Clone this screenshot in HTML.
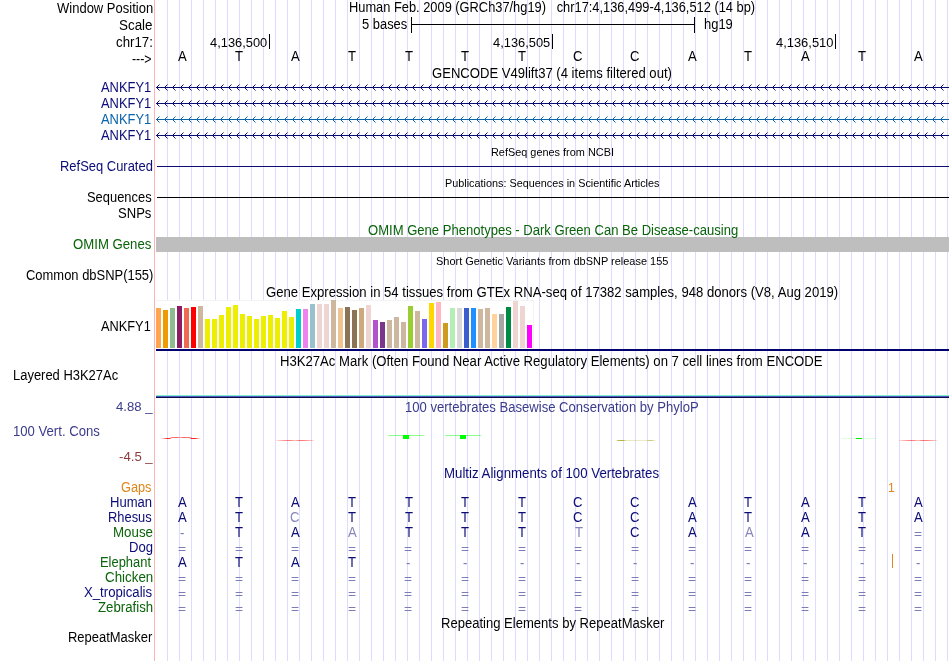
<!DOCTYPE html>
<html><head><meta charset="utf-8"><title>UCSC Genome Browser</title>
<style>
html,body{margin:0;padding:0;background:#fff;}
body{width:950px;height:661px;position:relative;overflow:hidden;font-family:"Liberation Sans",sans-serif;font-size:14px;color:#000;}
#gl{position:absolute;left:156px;top:0;width:794px;height:661px;background-image:repeating-linear-gradient(to right,transparent 0,transparent 11px,#dcdcff 11px,#dcdcff 12px);}
#pink{position:absolute;left:154px;top:0;width:1px;height:661px;background:#ffb4b4;}
svg{position:absolute;left:0;top:0;}
#tx{position:absolute;left:0;top:0;width:950px;height:661px;will-change:transform;}
.t{position:absolute;white-space:pre;line-height:16px;height:16px;font-size:14px;transform-origin:0 0;}
.navy{color:#0c0c78;}
.grn{color:#0a640a;}
.cons{color:#3c3c8c;}
.org{color:#e0861a;}
.lt{color:#8686ba;}
.eq{color:#7c7cb8;}
</style></head><body>
<div id="gl"></div>
<div id="pink"></div>
<svg width="950" height="661" viewBox="0 0 950 661" shape-rendering="crispEdges">
<defs><linearGradient id="g1" gradientUnits="userSpaceOnUse" x1="160" x2="171" y1="0" y2="0"><stop offset="0.000" stop-color="#ff0000" stop-opacity="0"/><stop offset="0.273" stop-color="#ff0000" stop-opacity="0.25"/><stop offset="0.636" stop-color="#ff0000" stop-opacity="0.85"/><stop offset="0.909" stop-color="#ff0000" stop-opacity="0.8"/><stop offset="1.000" stop-color="#ff0000" stop-opacity="0.3"/></linearGradient><linearGradient id="g2" gradientUnits="userSpaceOnUse" x1="170" x2="192" y1="0" y2="0"><stop offset="0.000" stop-color="#ff0000" stop-opacity="0.15"/><stop offset="0.091" stop-color="#ff0000" stop-opacity="0.55"/><stop offset="0.364" stop-color="#ff0000" stop-opacity="0.6"/><stop offset="0.455" stop-color="#ff0000" stop-opacity="0.3"/><stop offset="0.591" stop-color="#ff0000" stop-opacity="0.6"/><stop offset="0.864" stop-color="#ff0000" stop-opacity="0.55"/><stop offset="0.955" stop-color="#ff0000" stop-opacity="0.3"/><stop offset="1.000" stop-color="#ff0000" stop-opacity="0.1"/></linearGradient><linearGradient id="g3" gradientUnits="userSpaceOnUse" x1="190" x2="202" y1="0" y2="0"><stop offset="0.000" stop-color="#ff0000" stop-opacity="0.2"/><stop offset="0.083" stop-color="#ff0000" stop-opacity="0.8"/><stop offset="0.417" stop-color="#ff0000" stop-opacity="0.9"/><stop offset="0.667" stop-color="#ff0000" stop-opacity="0.35"/><stop offset="0.917" stop-color="#ff0000" stop-opacity="0"/></linearGradient><linearGradient id="g4" gradientUnits="userSpaceOnUse" x1="275" x2="316" y1="0" y2="0"><stop offset="0.000" stop-color="#ff0000" stop-opacity="0"/><stop offset="0.073" stop-color="#ff0000" stop-opacity="0.2"/><stop offset="0.293" stop-color="#ff0000" stop-opacity="0.5"/><stop offset="0.390" stop-color="#ff0000" stop-opacity="0.5"/><stop offset="0.488" stop-color="#ff0000" stop-opacity="0.2"/><stop offset="0.585" stop-color="#ff0000" stop-opacity="0.55"/><stop offset="0.707" stop-color="#ff0000" stop-opacity="0.5"/><stop offset="0.902" stop-color="#ff0000" stop-opacity="0.25"/><stop offset="0.976" stop-color="#ff0000" stop-opacity="0"/></linearGradient><linearGradient id="g5" gradientUnits="userSpaceOnUse" x1="387" x2="426" y1="0" y2="0"><stop offset="0.000" stop-color="#00ff00" stop-opacity="0"/><stop offset="0.051" stop-color="#00ff00" stop-opacity="0.45"/><stop offset="0.923" stop-color="#00ff00" stop-opacity="0.45"/><stop offset="0.974" stop-color="#00ff00" stop-opacity="0"/></linearGradient><linearGradient id="g6" gradientUnits="userSpaceOnUse" x1="444" x2="483" y1="0" y2="0"><stop offset="0.000" stop-color="#00ff00" stop-opacity="0"/><stop offset="0.051" stop-color="#00ff00" stop-opacity="0.45"/><stop offset="0.923" stop-color="#00ff00" stop-opacity="0.45"/><stop offset="0.974" stop-color="#00ff00" stop-opacity="0"/></linearGradient><linearGradient id="g7" gradientUnits="userSpaceOnUse" x1="616" x2="658" y1="0" y2="0"><stop offset="0.000" stop-color="#a0a000" stop-opacity="0"/><stop offset="0.048" stop-color="#a0a000" stop-opacity="0.7"/><stop offset="0.167" stop-color="#a0a000" stop-opacity="0.8"/><stop offset="0.238" stop-color="#a0a000" stop-opacity="0.25"/><stop offset="0.714" stop-color="#a0a000" stop-opacity="0.2"/><stop offset="0.786" stop-color="#a0a000" stop-opacity="0.55"/><stop offset="0.857" stop-color="#a0a000" stop-opacity="0.5"/><stop offset="0.952" stop-color="#a0a000" stop-opacity="0"/></linearGradient><linearGradient id="g8" gradientUnits="userSpaceOnUse" x1="840" x2="879" y1="0" y2="0"><stop offset="0.000" stop-color="#00ff00" stop-opacity="0"/><stop offset="0.051" stop-color="#00ff00" stop-opacity="0.13"/><stop offset="0.923" stop-color="#00ff00" stop-opacity="0.13"/><stop offset="0.974" stop-color="#00ff00" stop-opacity="0"/></linearGradient><linearGradient id="g9" gradientUnits="userSpaceOnUse" x1="898" x2="939" y1="0" y2="0"><stop offset="0.000" stop-color="#ff0000" stop-opacity="0"/><stop offset="0.073" stop-color="#ff0000" stop-opacity="0.2"/><stop offset="0.293" stop-color="#ff0000" stop-opacity="0.5"/><stop offset="0.390" stop-color="#ff0000" stop-opacity="0.5"/><stop offset="0.488" stop-color="#ff0000" stop-opacity="0.2"/><stop offset="0.585" stop-color="#ff0000" stop-opacity="0.55"/><stop offset="0.707" stop-color="#ff0000" stop-opacity="0.5"/><stop offset="0.902" stop-color="#ff0000" stop-opacity="0.25"/><stop offset="0.976" stop-color="#ff0000" stop-opacity="0"/></linearGradient></defs>
<path d="M411 24.5H695M411.5 17V33M694.5 17V33" stroke="#000" stroke-width="1" fill="none"/>
<rect x="269" y="34" width="1" height="15" fill="#000"/>
<rect x="552" y="34" width="1" height="15" fill="#000"/>
<rect x="835" y="34" width="1" height="15" fill="#000"/>
<path d="M156 87.5H949" stroke="#0c0c78" stroke-width="1" fill="none"/>
<path d="M159.5 84.5L156.5 87.5L159.5 90.5M167.5 84.5L164.5 87.5L167.5 90.5M175.5 84.5L172.5 87.5L175.5 90.5M183.5 84.5L180.5 87.5L183.5 90.5M191.5 84.5L188.5 87.5L191.5 90.5M199.5 84.5L196.5 87.5L199.5 90.5M207.5 84.5L204.5 87.5L207.5 90.5M215.5 84.5L212.5 87.5L215.5 90.5M223.5 84.5L220.5 87.5L223.5 90.5M231.5 84.5L228.5 87.5L231.5 90.5M239.5 84.5L236.5 87.5L239.5 90.5M247.5 84.5L244.5 87.5L247.5 90.5M255.5 84.5L252.5 87.5L255.5 90.5M263.5 84.5L260.5 87.5L263.5 90.5M271.5 84.5L268.5 87.5L271.5 90.5M279.5 84.5L276.5 87.5L279.5 90.5M287.5 84.5L284.5 87.5L287.5 90.5M295.5 84.5L292.5 87.5L295.5 90.5M303.5 84.5L300.5 87.5L303.5 90.5M311.5 84.5L308.5 87.5L311.5 90.5M319.5 84.5L316.5 87.5L319.5 90.5M327.5 84.5L324.5 87.5L327.5 90.5M335.5 84.5L332.5 87.5L335.5 90.5M343.5 84.5L340.5 87.5L343.5 90.5M351.5 84.5L348.5 87.5L351.5 90.5M359.5 84.5L356.5 87.5L359.5 90.5M367.5 84.5L364.5 87.5L367.5 90.5M375.5 84.5L372.5 87.5L375.5 90.5M383.5 84.5L380.5 87.5L383.5 90.5M391.5 84.5L388.5 87.5L391.5 90.5M399.5 84.5L396.5 87.5L399.5 90.5M407.5 84.5L404.5 87.5L407.5 90.5M415.5 84.5L412.5 87.5L415.5 90.5M423.5 84.5L420.5 87.5L423.5 90.5M431.5 84.5L428.5 87.5L431.5 90.5M439.5 84.5L436.5 87.5L439.5 90.5M447.5 84.5L444.5 87.5L447.5 90.5M455.5 84.5L452.5 87.5L455.5 90.5M463.5 84.5L460.5 87.5L463.5 90.5M471.5 84.5L468.5 87.5L471.5 90.5M479.5 84.5L476.5 87.5L479.5 90.5M487.5 84.5L484.5 87.5L487.5 90.5M495.5 84.5L492.5 87.5L495.5 90.5M503.5 84.5L500.5 87.5L503.5 90.5M511.5 84.5L508.5 87.5L511.5 90.5M519.5 84.5L516.5 87.5L519.5 90.5M527.5 84.5L524.5 87.5L527.5 90.5M535.5 84.5L532.5 87.5L535.5 90.5M543.5 84.5L540.5 87.5L543.5 90.5M551.5 84.5L548.5 87.5L551.5 90.5M559.5 84.5L556.5 87.5L559.5 90.5M567.5 84.5L564.5 87.5L567.5 90.5M575.5 84.5L572.5 87.5L575.5 90.5M583.5 84.5L580.5 87.5L583.5 90.5M591.5 84.5L588.5 87.5L591.5 90.5M599.5 84.5L596.5 87.5L599.5 90.5M607.5 84.5L604.5 87.5L607.5 90.5M615.5 84.5L612.5 87.5L615.5 90.5M623.5 84.5L620.5 87.5L623.5 90.5M631.5 84.5L628.5 87.5L631.5 90.5M639.5 84.5L636.5 87.5L639.5 90.5M647.5 84.5L644.5 87.5L647.5 90.5M655.5 84.5L652.5 87.5L655.5 90.5M663.5 84.5L660.5 87.5L663.5 90.5M671.5 84.5L668.5 87.5L671.5 90.5M679.5 84.5L676.5 87.5L679.5 90.5M687.5 84.5L684.5 87.5L687.5 90.5M695.5 84.5L692.5 87.5L695.5 90.5M703.5 84.5L700.5 87.5L703.5 90.5M711.5 84.5L708.5 87.5L711.5 90.5M719.5 84.5L716.5 87.5L719.5 90.5M727.5 84.5L724.5 87.5L727.5 90.5M735.5 84.5L732.5 87.5L735.5 90.5M743.5 84.5L740.5 87.5L743.5 90.5M751.5 84.5L748.5 87.5L751.5 90.5M759.5 84.5L756.5 87.5L759.5 90.5M767.5 84.5L764.5 87.5L767.5 90.5M775.5 84.5L772.5 87.5L775.5 90.5M783.5 84.5L780.5 87.5L783.5 90.5M791.5 84.5L788.5 87.5L791.5 90.5M799.5 84.5L796.5 87.5L799.5 90.5M807.5 84.5L804.5 87.5L807.5 90.5M815.5 84.5L812.5 87.5L815.5 90.5M823.5 84.5L820.5 87.5L823.5 90.5M831.5 84.5L828.5 87.5L831.5 90.5M839.5 84.5L836.5 87.5L839.5 90.5M847.5 84.5L844.5 87.5L847.5 90.5M855.5 84.5L852.5 87.5L855.5 90.5M863.5 84.5L860.5 87.5L863.5 90.5M871.5 84.5L868.5 87.5L871.5 90.5M879.5 84.5L876.5 87.5L879.5 90.5M887.5 84.5L884.5 87.5L887.5 90.5M895.5 84.5L892.5 87.5L895.5 90.5M903.5 84.5L900.5 87.5L903.5 90.5M911.5 84.5L908.5 87.5L911.5 90.5M919.5 84.5L916.5 87.5L919.5 90.5M927.5 84.5L924.5 87.5L927.5 90.5M935.5 84.5L932.5 87.5L935.5 90.5M943.5 84.5L940.5 87.5L943.5 90.5" stroke="#0c0c78" stroke-width="1" fill="none" shape-rendering="auto"/>
<path d="M156 103.5H949" stroke="#0c0c78" stroke-width="1" fill="none"/>
<path d="M159.5 100.5L156.5 103.5L159.5 106.5M167.5 100.5L164.5 103.5L167.5 106.5M175.5 100.5L172.5 103.5L175.5 106.5M183.5 100.5L180.5 103.5L183.5 106.5M191.5 100.5L188.5 103.5L191.5 106.5M199.5 100.5L196.5 103.5L199.5 106.5M207.5 100.5L204.5 103.5L207.5 106.5M215.5 100.5L212.5 103.5L215.5 106.5M223.5 100.5L220.5 103.5L223.5 106.5M231.5 100.5L228.5 103.5L231.5 106.5M239.5 100.5L236.5 103.5L239.5 106.5M247.5 100.5L244.5 103.5L247.5 106.5M255.5 100.5L252.5 103.5L255.5 106.5M263.5 100.5L260.5 103.5L263.5 106.5M271.5 100.5L268.5 103.5L271.5 106.5M279.5 100.5L276.5 103.5L279.5 106.5M287.5 100.5L284.5 103.5L287.5 106.5M295.5 100.5L292.5 103.5L295.5 106.5M303.5 100.5L300.5 103.5L303.5 106.5M311.5 100.5L308.5 103.5L311.5 106.5M319.5 100.5L316.5 103.5L319.5 106.5M327.5 100.5L324.5 103.5L327.5 106.5M335.5 100.5L332.5 103.5L335.5 106.5M343.5 100.5L340.5 103.5L343.5 106.5M351.5 100.5L348.5 103.5L351.5 106.5M359.5 100.5L356.5 103.5L359.5 106.5M367.5 100.5L364.5 103.5L367.5 106.5M375.5 100.5L372.5 103.5L375.5 106.5M383.5 100.5L380.5 103.5L383.5 106.5M391.5 100.5L388.5 103.5L391.5 106.5M399.5 100.5L396.5 103.5L399.5 106.5M407.5 100.5L404.5 103.5L407.5 106.5M415.5 100.5L412.5 103.5L415.5 106.5M423.5 100.5L420.5 103.5L423.5 106.5M431.5 100.5L428.5 103.5L431.5 106.5M439.5 100.5L436.5 103.5L439.5 106.5M447.5 100.5L444.5 103.5L447.5 106.5M455.5 100.5L452.5 103.5L455.5 106.5M463.5 100.5L460.5 103.5L463.5 106.5M471.5 100.5L468.5 103.5L471.5 106.5M479.5 100.5L476.5 103.5L479.5 106.5M487.5 100.5L484.5 103.5L487.5 106.5M495.5 100.5L492.5 103.5L495.5 106.5M503.5 100.5L500.5 103.5L503.5 106.5M511.5 100.5L508.5 103.5L511.5 106.5M519.5 100.5L516.5 103.5L519.5 106.5M527.5 100.5L524.5 103.5L527.5 106.5M535.5 100.5L532.5 103.5L535.5 106.5M543.5 100.5L540.5 103.5L543.5 106.5M551.5 100.5L548.5 103.5L551.5 106.5M559.5 100.5L556.5 103.5L559.5 106.5M567.5 100.5L564.5 103.5L567.5 106.5M575.5 100.5L572.5 103.5L575.5 106.5M583.5 100.5L580.5 103.5L583.5 106.5M591.5 100.5L588.5 103.5L591.5 106.5M599.5 100.5L596.5 103.5L599.5 106.5M607.5 100.5L604.5 103.5L607.5 106.5M615.5 100.5L612.5 103.5L615.5 106.5M623.5 100.5L620.5 103.5L623.5 106.5M631.5 100.5L628.5 103.5L631.5 106.5M639.5 100.5L636.5 103.5L639.5 106.5M647.5 100.5L644.5 103.5L647.5 106.5M655.5 100.5L652.5 103.5L655.5 106.5M663.5 100.5L660.5 103.5L663.5 106.5M671.5 100.5L668.5 103.5L671.5 106.5M679.5 100.5L676.5 103.5L679.5 106.5M687.5 100.5L684.5 103.5L687.5 106.5M695.5 100.5L692.5 103.5L695.5 106.5M703.5 100.5L700.5 103.5L703.5 106.5M711.5 100.5L708.5 103.5L711.5 106.5M719.5 100.5L716.5 103.5L719.5 106.5M727.5 100.5L724.5 103.5L727.5 106.5M735.5 100.5L732.5 103.5L735.5 106.5M743.5 100.5L740.5 103.5L743.5 106.5M751.5 100.5L748.5 103.5L751.5 106.5M759.5 100.5L756.5 103.5L759.5 106.5M767.5 100.5L764.5 103.5L767.5 106.5M775.5 100.5L772.5 103.5L775.5 106.5M783.5 100.5L780.5 103.5L783.5 106.5M791.5 100.5L788.5 103.5L791.5 106.5M799.5 100.5L796.5 103.5L799.5 106.5M807.5 100.5L804.5 103.5L807.5 106.5M815.5 100.5L812.5 103.5L815.5 106.5M823.5 100.5L820.5 103.5L823.5 106.5M831.5 100.5L828.5 103.5L831.5 106.5M839.5 100.5L836.5 103.5L839.5 106.5M847.5 100.5L844.5 103.5L847.5 106.5M855.5 100.5L852.5 103.5L855.5 106.5M863.5 100.5L860.5 103.5L863.5 106.5M871.5 100.5L868.5 103.5L871.5 106.5M879.5 100.5L876.5 103.5L879.5 106.5M887.5 100.5L884.5 103.5L887.5 106.5M895.5 100.5L892.5 103.5L895.5 106.5M903.5 100.5L900.5 103.5L903.5 106.5M911.5 100.5L908.5 103.5L911.5 106.5M919.5 100.5L916.5 103.5L919.5 106.5M927.5 100.5L924.5 103.5L927.5 106.5M935.5 100.5L932.5 103.5L935.5 106.5M943.5 100.5L940.5 103.5L943.5 106.5" stroke="#0c0c78" stroke-width="1" fill="none" shape-rendering="auto"/>
<path d="M156 119.5H949" stroke="#0a64aa" stroke-width="1" fill="none"/>
<path d="M159.5 116.5L156.5 119.5L159.5 122.5M167.5 116.5L164.5 119.5L167.5 122.5M175.5 116.5L172.5 119.5L175.5 122.5M183.5 116.5L180.5 119.5L183.5 122.5M191.5 116.5L188.5 119.5L191.5 122.5M199.5 116.5L196.5 119.5L199.5 122.5M207.5 116.5L204.5 119.5L207.5 122.5M215.5 116.5L212.5 119.5L215.5 122.5M223.5 116.5L220.5 119.5L223.5 122.5M231.5 116.5L228.5 119.5L231.5 122.5M239.5 116.5L236.5 119.5L239.5 122.5M247.5 116.5L244.5 119.5L247.5 122.5M255.5 116.5L252.5 119.5L255.5 122.5M263.5 116.5L260.5 119.5L263.5 122.5M271.5 116.5L268.5 119.5L271.5 122.5M279.5 116.5L276.5 119.5L279.5 122.5M287.5 116.5L284.5 119.5L287.5 122.5M295.5 116.5L292.5 119.5L295.5 122.5M303.5 116.5L300.5 119.5L303.5 122.5M311.5 116.5L308.5 119.5L311.5 122.5M319.5 116.5L316.5 119.5L319.5 122.5M327.5 116.5L324.5 119.5L327.5 122.5M335.5 116.5L332.5 119.5L335.5 122.5M343.5 116.5L340.5 119.5L343.5 122.5M351.5 116.5L348.5 119.5L351.5 122.5M359.5 116.5L356.5 119.5L359.5 122.5M367.5 116.5L364.5 119.5L367.5 122.5M375.5 116.5L372.5 119.5L375.5 122.5M383.5 116.5L380.5 119.5L383.5 122.5M391.5 116.5L388.5 119.5L391.5 122.5M399.5 116.5L396.5 119.5L399.5 122.5M407.5 116.5L404.5 119.5L407.5 122.5M415.5 116.5L412.5 119.5L415.5 122.5M423.5 116.5L420.5 119.5L423.5 122.5M431.5 116.5L428.5 119.5L431.5 122.5M439.5 116.5L436.5 119.5L439.5 122.5M447.5 116.5L444.5 119.5L447.5 122.5M455.5 116.5L452.5 119.5L455.5 122.5M463.5 116.5L460.5 119.5L463.5 122.5M471.5 116.5L468.5 119.5L471.5 122.5M479.5 116.5L476.5 119.5L479.5 122.5M487.5 116.5L484.5 119.5L487.5 122.5M495.5 116.5L492.5 119.5L495.5 122.5M503.5 116.5L500.5 119.5L503.5 122.5M511.5 116.5L508.5 119.5L511.5 122.5M519.5 116.5L516.5 119.5L519.5 122.5M527.5 116.5L524.5 119.5L527.5 122.5M535.5 116.5L532.5 119.5L535.5 122.5M543.5 116.5L540.5 119.5L543.5 122.5M551.5 116.5L548.5 119.5L551.5 122.5M559.5 116.5L556.5 119.5L559.5 122.5M567.5 116.5L564.5 119.5L567.5 122.5M575.5 116.5L572.5 119.5L575.5 122.5M583.5 116.5L580.5 119.5L583.5 122.5M591.5 116.5L588.5 119.5L591.5 122.5M599.5 116.5L596.5 119.5L599.5 122.5M607.5 116.5L604.5 119.5L607.5 122.5M615.5 116.5L612.5 119.5L615.5 122.5M623.5 116.5L620.5 119.5L623.5 122.5M631.5 116.5L628.5 119.5L631.5 122.5M639.5 116.5L636.5 119.5L639.5 122.5M647.5 116.5L644.5 119.5L647.5 122.5M655.5 116.5L652.5 119.5L655.5 122.5M663.5 116.5L660.5 119.5L663.5 122.5M671.5 116.5L668.5 119.5L671.5 122.5M679.5 116.5L676.5 119.5L679.5 122.5M687.5 116.5L684.5 119.5L687.5 122.5M695.5 116.5L692.5 119.5L695.5 122.5M703.5 116.5L700.5 119.5L703.5 122.5M711.5 116.5L708.5 119.5L711.5 122.5M719.5 116.5L716.5 119.5L719.5 122.5M727.5 116.5L724.5 119.5L727.5 122.5M735.5 116.5L732.5 119.5L735.5 122.5M743.5 116.5L740.5 119.5L743.5 122.5M751.5 116.5L748.5 119.5L751.5 122.5M759.5 116.5L756.5 119.5L759.5 122.5M767.5 116.5L764.5 119.5L767.5 122.5M775.5 116.5L772.5 119.5L775.5 122.5M783.5 116.5L780.5 119.5L783.5 122.5M791.5 116.5L788.5 119.5L791.5 122.5M799.5 116.5L796.5 119.5L799.5 122.5M807.5 116.5L804.5 119.5L807.5 122.5M815.5 116.5L812.5 119.5L815.5 122.5M823.5 116.5L820.5 119.5L823.5 122.5M831.5 116.5L828.5 119.5L831.5 122.5M839.5 116.5L836.5 119.5L839.5 122.5M847.5 116.5L844.5 119.5L847.5 122.5M855.5 116.5L852.5 119.5L855.5 122.5M863.5 116.5L860.5 119.5L863.5 122.5M871.5 116.5L868.5 119.5L871.5 122.5M879.5 116.5L876.5 119.5L879.5 122.5M887.5 116.5L884.5 119.5L887.5 122.5M895.5 116.5L892.5 119.5L895.5 122.5M903.5 116.5L900.5 119.5L903.5 122.5M911.5 116.5L908.5 119.5L911.5 122.5M919.5 116.5L916.5 119.5L919.5 122.5M927.5 116.5L924.5 119.5L927.5 122.5M935.5 116.5L932.5 119.5L935.5 122.5M943.5 116.5L940.5 119.5L943.5 122.5" stroke="#0a64aa" stroke-width="1" fill="none" shape-rendering="auto"/>
<path d="M156 135.5H949" stroke="#0c0c78" stroke-width="1" fill="none"/>
<path d="M159.5 132.5L156.5 135.5L159.5 138.5M167.5 132.5L164.5 135.5L167.5 138.5M175.5 132.5L172.5 135.5L175.5 138.5M183.5 132.5L180.5 135.5L183.5 138.5M191.5 132.5L188.5 135.5L191.5 138.5M199.5 132.5L196.5 135.5L199.5 138.5M207.5 132.5L204.5 135.5L207.5 138.5M215.5 132.5L212.5 135.5L215.5 138.5M223.5 132.5L220.5 135.5L223.5 138.5M231.5 132.5L228.5 135.5L231.5 138.5M239.5 132.5L236.5 135.5L239.5 138.5M247.5 132.5L244.5 135.5L247.5 138.5M255.5 132.5L252.5 135.5L255.5 138.5M263.5 132.5L260.5 135.5L263.5 138.5M271.5 132.5L268.5 135.5L271.5 138.5M279.5 132.5L276.5 135.5L279.5 138.5M287.5 132.5L284.5 135.5L287.5 138.5M295.5 132.5L292.5 135.5L295.5 138.5M303.5 132.5L300.5 135.5L303.5 138.5M311.5 132.5L308.5 135.5L311.5 138.5M319.5 132.5L316.5 135.5L319.5 138.5M327.5 132.5L324.5 135.5L327.5 138.5M335.5 132.5L332.5 135.5L335.5 138.5M343.5 132.5L340.5 135.5L343.5 138.5M351.5 132.5L348.5 135.5L351.5 138.5M359.5 132.5L356.5 135.5L359.5 138.5M367.5 132.5L364.5 135.5L367.5 138.5M375.5 132.5L372.5 135.5L375.5 138.5M383.5 132.5L380.5 135.5L383.5 138.5M391.5 132.5L388.5 135.5L391.5 138.5M399.5 132.5L396.5 135.5L399.5 138.5M407.5 132.5L404.5 135.5L407.5 138.5M415.5 132.5L412.5 135.5L415.5 138.5M423.5 132.5L420.5 135.5L423.5 138.5M431.5 132.5L428.5 135.5L431.5 138.5M439.5 132.5L436.5 135.5L439.5 138.5M447.5 132.5L444.5 135.5L447.5 138.5M455.5 132.5L452.5 135.5L455.5 138.5M463.5 132.5L460.5 135.5L463.5 138.5M471.5 132.5L468.5 135.5L471.5 138.5M479.5 132.5L476.5 135.5L479.5 138.5M487.5 132.5L484.5 135.5L487.5 138.5M495.5 132.5L492.5 135.5L495.5 138.5M503.5 132.5L500.5 135.5L503.5 138.5M511.5 132.5L508.5 135.5L511.5 138.5M519.5 132.5L516.5 135.5L519.5 138.5M527.5 132.5L524.5 135.5L527.5 138.5M535.5 132.5L532.5 135.5L535.5 138.5M543.5 132.5L540.5 135.5L543.5 138.5M551.5 132.5L548.5 135.5L551.5 138.5M559.5 132.5L556.5 135.5L559.5 138.5M567.5 132.5L564.5 135.5L567.5 138.5M575.5 132.5L572.5 135.5L575.5 138.5M583.5 132.5L580.5 135.5L583.5 138.5M591.5 132.5L588.5 135.5L591.5 138.5M599.5 132.5L596.5 135.5L599.5 138.5M607.5 132.5L604.5 135.5L607.5 138.5M615.5 132.5L612.5 135.5L615.5 138.5M623.5 132.5L620.5 135.5L623.5 138.5M631.5 132.5L628.5 135.5L631.5 138.5M639.5 132.5L636.5 135.5L639.5 138.5M647.5 132.5L644.5 135.5L647.5 138.5M655.5 132.5L652.5 135.5L655.5 138.5M663.5 132.5L660.5 135.5L663.5 138.5M671.5 132.5L668.5 135.5L671.5 138.5M679.5 132.5L676.5 135.5L679.5 138.5M687.5 132.5L684.5 135.5L687.5 138.5M695.5 132.5L692.5 135.5L695.5 138.5M703.5 132.5L700.5 135.5L703.5 138.5M711.5 132.5L708.5 135.5L711.5 138.5M719.5 132.5L716.5 135.5L719.5 138.5M727.5 132.5L724.5 135.5L727.5 138.5M735.5 132.5L732.5 135.5L735.5 138.5M743.5 132.5L740.5 135.5L743.5 138.5M751.5 132.5L748.5 135.5L751.5 138.5M759.5 132.5L756.5 135.5L759.5 138.5M767.5 132.5L764.5 135.5L767.5 138.5M775.5 132.5L772.5 135.5L775.5 138.5M783.5 132.5L780.5 135.5L783.5 138.5M791.5 132.5L788.5 135.5L791.5 138.5M799.5 132.5L796.5 135.5L799.5 138.5M807.5 132.5L804.5 135.5L807.5 138.5M815.5 132.5L812.5 135.5L815.5 138.5M823.5 132.5L820.5 135.5L823.5 138.5M831.5 132.5L828.5 135.5L831.5 138.5M839.5 132.5L836.5 135.5L839.5 138.5M847.5 132.5L844.5 135.5L847.5 138.5M855.5 132.5L852.5 135.5L855.5 138.5M863.5 132.5L860.5 135.5L863.5 138.5M871.5 132.5L868.5 135.5L871.5 138.5M879.5 132.5L876.5 135.5L879.5 138.5M887.5 132.5L884.5 135.5L887.5 138.5M895.5 132.5L892.5 135.5L895.5 138.5M903.5 132.5L900.5 135.5L903.5 138.5M911.5 132.5L908.5 135.5L911.5 138.5M919.5 132.5L916.5 135.5L919.5 138.5M927.5 132.5L924.5 135.5L927.5 138.5M935.5 132.5L932.5 135.5L935.5 138.5M943.5 132.5L940.5 135.5L943.5 138.5" stroke="#0c0c78" stroke-width="1" fill="none" shape-rendering="auto"/>
<path d="M157 166.5H949" stroke="#0c0c78" stroke-width="1"/>
<path d="M157 197.5H949" stroke="#000" stroke-width="1"/>
<rect x="156" y="237" width="793" height="15" fill="#bebebe"/>
<rect x="156" y="300" width="378" height="49" fill="#fff"/><rect x="156" y="300" width="378" height="1" fill="#f3f3f3"/><rect x="533" y="300" width="1" height="49" fill="#f3f3f3"/>
<rect x="156" y="308" width="5" height="40" fill="#FFA54F"/>
<rect x="163" y="310" width="5" height="38" fill="#EE9A00"/>
<rect x="170" y="308" width="5" height="40" fill="#8FBC8F"/>
<rect x="177" y="306" width="5" height="42" fill="#8B1C62"/>
<rect x="184" y="308" width="5" height="40" fill="#EE6A50"/>
<rect x="191" y="307" width="5" height="41" fill="#FF0000"/>
<rect x="198" y="306" width="5" height="42" fill="#CDB79E"/>
<rect x="205" y="319" width="5" height="29" fill="#EEEE00"/>
<rect x="212" y="319" width="5" height="29" fill="#EEEE00"/>
<rect x="219" y="315" width="5" height="33" fill="#EEEE00"/>
<rect x="226" y="307" width="5" height="41" fill="#EEEE00"/>
<rect x="233" y="305" width="5" height="43" fill="#EEEE00"/>
<rect x="240" y="314" width="5" height="34" fill="#EEEE00"/>
<rect x="247" y="316" width="5" height="32" fill="#EEEE00"/>
<rect x="254" y="319" width="5" height="29" fill="#EEEE00"/>
<rect x="261" y="316" width="5" height="32" fill="#EEEE00"/>
<rect x="268" y="315" width="5" height="33" fill="#EEEE00"/>
<rect x="275" y="318" width="5" height="30" fill="#EEEE00"/>
<rect x="282" y="311" width="5" height="37" fill="#EEEE00"/>
<rect x="289" y="317" width="5" height="31" fill="#EEEE00"/>
<rect x="296" y="309" width="5" height="39" fill="#00CDCD"/>
<rect x="303" y="309" width="5" height="39" fill="#EE82EE"/>
<rect x="310" y="304" width="5" height="44" fill="#9AC0CD"/>
<rect x="317" y="304" width="5" height="44" fill="#EED5D2"/>
<rect x="324" y="304" width="5" height="44" fill="#EED5D2"/>
<rect x="331" y="300" width="5" height="48" fill="#CDB79E"/>
<rect x="338" y="308" width="5" height="40" fill="#EEC591"/>
<rect x="345" y="307" width="5" height="41" fill="#8B7355"/>
<rect x="352" y="310" width="5" height="38" fill="#8B7355"/>
<rect x="359" y="308" width="5" height="40" fill="#CDAA7D"/>
<rect x="366" y="305" width="5" height="43" fill="#EED5D2"/>
<rect x="373" y="320" width="5" height="28" fill="#B452CD"/>
<rect x="380" y="322" width="5" height="26" fill="#7A378B"/>
<rect x="387" y="320" width="5" height="28" fill="#CDB79E"/>
<rect x="394" y="317" width="5" height="31" fill="#CDB79E"/>
<rect x="401" y="322" width="5" height="26" fill="#CDB79E"/>
<rect x="408" y="306" width="5" height="42" fill="#9ACD32"/>
<rect x="415" y="311" width="5" height="37" fill="#CDB79E"/>
<rect x="422" y="319" width="5" height="29" fill="#7A67EE"/>
<rect x="429" y="303" width="5" height="45" fill="#FFD700"/>
<rect x="436" y="302" width="5" height="46" fill="#FFB6C1"/>
<rect x="443" y="323" width="5" height="25" fill="#CD9B1D"/>
<rect x="450" y="308" width="5" height="40" fill="#B4EEB4"/>
<rect x="457" y="308" width="5" height="40" fill="#D9D9D9"/>
<rect x="464" y="308" width="5" height="40" fill="#3A5FCD"/>
<rect x="471" y="308" width="5" height="40" fill="#1E90FF"/>
<rect x="478" y="309" width="5" height="39" fill="#CDB79E"/>
<rect x="485" y="308" width="5" height="40" fill="#CDB79E"/>
<rect x="492" y="314" width="5" height="34" fill="#FFD39B"/>
<rect x="499" y="314" width="5" height="34" fill="#A6A6A6"/>
<rect x="506" y="307" width="5" height="41" fill="#008B45"/>
<rect x="513" y="301" width="5" height="47" fill="#EED5D2"/>
<rect x="520" y="306" width="5" height="42" fill="#EED5D2"/>
<rect x="527" y="325" width="5" height="23" fill="#FF00FF"/>
<rect x="156" y="349" width="793" height="2" fill="#00006e"/>
<rect x="156" y="395" width="793" height="1" fill="#80f0c8"/>
<rect x="156" y="396" width="793" height="1" fill="#4858c0"/>
<rect x="156" y="397" width="793" height="1" fill="#140a50"/>
<rect x="160" y="438" width="11" height="1" fill="url(#g1)"/>
<rect x="170" y="437" width="22" height="1" fill="url(#g2)"/>
<rect x="190" y="438" width="12" height="1" fill="url(#g3)"/>
<rect x="275" y="440" width="41" height="1" fill="url(#g4)"/>
<rect x="387" y="435" width="39" height="1" fill="url(#g5)"/>
<rect x="444" y="435" width="39" height="1" fill="url(#g6)"/>
<rect x="403" y="435" width="6" height="4" fill="#00ff00"/><rect x="460" y="435" width="6" height="4" fill="#00ff00"/>
<rect x="616" y="440" width="42" height="1" fill="url(#g7)"/>
<rect x="840" y="438" width="39" height="1" fill="url(#g8)"/>
<rect x="856" y="438" width="6" height="1" fill="#00e800"/>
<rect x="898" y="440" width="41" height="1" fill="url(#g9)"/>
<rect x="892" y="554" width="1" height="14" fill="#e0861a"/>
</svg>
<div id="tx">
<div class="t" style="left:56.58px;top:0px;transform:scaleX(0.9288);">Window Position</div>
<div class="t" style="left:119.00px;top:17px;transform:scaleX(0.9570);">Scale</div>
<div class="t" style="left:115.61px;top:34px;transform:scaleX(0.9486);">chr17:</div>
<div class="t" style="left:132.05px;top:51px;transform:scaleX(0.8814);">---&gt;</div>
<div class="t" style="left:349.07px;top:-1px;transform:scaleX(0.9170);">Human Feb. 2009 (GRCh37/hg19)   chr17:4,136,499-4,136,512 (14 bp)</div>
<div class="t" style="left:361.92px;top:16px;transform:scaleX(0.9232);">5 bases</div>
<div class="t" style="left:703.87px;top:16px;transform:scaleX(0.9254);">hg19</div>
<div class="t" style="left:209.85px;top:35px;transform:scaleX(0.9895);font-size:13px;">4,136,500</div>
<div class="t" style="left:493.35px;top:35px;transform:scaleX(0.9895);font-size:13px;">4,136,505</div>
<div class="t" style="left:775.85px;top:35px;transform:scaleX(0.9930);font-size:13px;">4,136,510</div>
<div class="t" style="left:432.10px;top:65px;transform:scaleX(0.9344);">GENCODE V49lift37 (4 items filtered out)</div>
<div class="t" style="left:100.80px;top:79px;transform:scaleX(0.9228);color:#0c0c78;">ANKFY1</div>
<div class="t" style="left:100.80px;top:95px;transform:scaleX(0.9228);color:#0c0c78;">ANKFY1</div>
<div class="t" style="left:100.80px;top:111px;transform:scaleX(0.9228);color:#0a64aa;">ANKFY1</div>
<div class="t" style="left:100.80px;top:127px;transform:scaleX(0.9228);color:#0c0c78;">ANKFY1</div>
<div class="t" style="left:491.03px;top:144px;transform:scaleX(0.9906);font-size:11px;">RefSeq genes from NCBI</div>
<div class="t navy" style="left:59.56px;top:158px;transform:scaleX(0.9250);">RefSeq Curated</div>
<div class="t" style="left:444.84px;top:175px;transform:scaleX(0.9853);font-size:11px;">Publications: Sequences in Scientific Articles</div>
<div class="t" style="left:86.92px;top:189px;transform:scaleX(0.9220);">Sequences</div>
<div class="t" style="left:118.12px;top:205px;transform:scaleX(0.9329);">SNPs</div>
<div class="t grn" style="left:367.62px;top:222px;transform:scaleX(0.9328);">OMIM Gene Phenotypes - Dark Green Can Be Disease-causing</div>
<div class="t grn" style="left:73.31px;top:236px;transform:scaleX(0.9412);">OMIM Genes</div>
<div class="t" style="left:435.90px;top:253px;transform:scaleX(0.9964);font-size:11px;">Short Genetic Variants from dbSNP release 155</div>
<div class="t" style="left:25.61px;top:267px;transform:scaleX(0.9249);">Common dbSNP(155)</div>
<div class="t" style="left:266.00px;top:284px;transform:scaleX(0.9366);">Gene Expression in 54 tissues from GTEx RNA-seq of 17382 samples, 948 donors (V8, Aug 2019)</div>
<div class="t" style="left:101.40px;top:318px;transform:scaleX(0.9135);">ANKFY1</div>
<div class="t" style="left:280.35px;top:353px;transform:scaleX(0.9372);">H3K27Ac Mark (Often Found Near Active Regulatory Elements) on 7 cell lines from ENCODE</div>
<div class="t" style="left:12.61px;top:367px;transform:scaleX(0.9253);">Layered H3K27Ac</div>
<div class="t cons" style="left:115.85px;top:399px;transform:scaleX(1.0111);font-size:13px;">4.88 _</div>
<div class="t cons" style="left:405.05px;top:399px;transform:scaleX(0.9341);">100 vertebrates Basewise Conservation by PhyloP</div>
<div class="t cons" style="left:12.95px;top:423px;transform:scaleX(0.9374);">100 Vert. Cons</div>
<div class="t" style="left:118.57px;top:449px;transform:scaleX(1.0137);color:#8c3c3c;font-size:13px;">-4.5 _</div>
<div class="t navy" style="left:444.44px;top:465px;transform:scaleX(0.9463);">Multiz Alignments of 100 Vertebrates</div>
<div class="t org" style="left:120.92px;top:479px;transform:scaleX(0.9116);">Gaps</div>
<div class="t navy" style="left:110.45px;top:494px;transform:scaleX(0.9322);">Human</div>
<div class="t navy" style="left:107.77px;top:509px;transform:scaleX(0.9199);">Rhesus</div>
<div class="t grn" style="left:112.53px;top:524px;transform:scaleX(0.9516);">Mouse</div>
<div class="t navy" style="left:128.75px;top:539px;transform:scaleX(0.9354);">Dog</div>
<div class="t grn" style="left:100.46px;top:554px;transform:scaleX(0.9222);">Elephant</div>
<div class="t grn" style="left:104.58px;top:569px;transform:scaleX(0.9535);">Chicken</div>
<div class="t navy" style="left:83.65px;top:584px;transform:scaleX(0.9413);">X_tropicalis</div>
<div class="t grn" style="left:97.63px;top:599px;transform:scaleX(0.9456);">Zebrafish</div>
<div class="t" style="left:440.65px;top:615px;transform:scaleX(0.9321);">Repeating Elements by RepeatMasker</div>
<div class="t" style="left:67.76px;top:629px;transform:scaleX(0.9261);">RepeatMasker</div>
<div class="t" style="left:178.10px;top:48px;transform:scaleX(0.9360);">A</div>
<div class="t" style="left:234.69px;top:48px;transform:scaleX(0.9360);">T</div>
<div class="t" style="left:291.39px;top:48px;transform:scaleX(0.9360);">A</div>
<div class="t" style="left:347.98px;top:48px;transform:scaleX(0.9360);">T</div>
<div class="t" style="left:404.62px;top:48px;transform:scaleX(0.9360);">T</div>
<div class="t" style="left:461.26px;top:48px;transform:scaleX(0.9360);">T</div>
<div class="t" style="left:517.91px;top:48px;transform:scaleX(0.9360);">T</div>
<div class="t" style="left:573.40px;top:48px;transform:scaleX(0.9360);">C</div>
<div class="t" style="left:630.04px;top:48px;transform:scaleX(0.9360);">C</div>
<div class="t" style="left:687.89px;top:48px;transform:scaleX(0.9360);">A</div>
<div class="t" style="left:744.48px;top:48px;transform:scaleX(0.9360);">T</div>
<div class="t" style="left:801.17px;top:48px;transform:scaleX(0.9360);">A</div>
<div class="t" style="left:857.76px;top:48px;transform:scaleX(0.9360);">T</div>
<div class="t" style="left:914.46px;top:48px;transform:scaleX(0.9360);">A</div>
<div class="t org" style="left:887.56px;top:480px;transform:scaleX(0.9360);font-size:13px;">1</div>
<div class="t navy" style="left:178.10px;top:494px;transform:scaleX(0.9360);">A</div>
<div class="t navy" style="left:234.69px;top:494px;transform:scaleX(0.9360);">T</div>
<div class="t navy" style="left:291.39px;top:494px;transform:scaleX(0.9360);">A</div>
<div class="t navy" style="left:347.98px;top:494px;transform:scaleX(0.9360);">T</div>
<div class="t navy" style="left:404.62px;top:494px;transform:scaleX(0.9360);">T</div>
<div class="t navy" style="left:461.26px;top:494px;transform:scaleX(0.9360);">T</div>
<div class="t navy" style="left:517.91px;top:494px;transform:scaleX(0.9360);">T</div>
<div class="t navy" style="left:573.40px;top:494px;transform:scaleX(0.9360);">C</div>
<div class="t navy" style="left:630.04px;top:494px;transform:scaleX(0.9360);">C</div>
<div class="t navy" style="left:687.89px;top:494px;transform:scaleX(0.9360);">A</div>
<div class="t navy" style="left:744.48px;top:494px;transform:scaleX(0.9360);">T</div>
<div class="t navy" style="left:801.17px;top:494px;transform:scaleX(0.9360);">A</div>
<div class="t navy" style="left:857.76px;top:494px;transform:scaleX(0.9360);">T</div>
<div class="t navy" style="left:914.46px;top:494px;transform:scaleX(0.9360);">A</div>
<div class="t navy" style="left:178.10px;top:509px;transform:scaleX(0.9360);">A</div>
<div class="t navy" style="left:234.69px;top:509px;transform:scaleX(0.9360);">T</div>
<div class="t lt" style="left:290.18px;top:509px;transform:scaleX(0.9360);">C</div>
<div class="t navy" style="left:347.98px;top:509px;transform:scaleX(0.9360);">T</div>
<div class="t navy" style="left:404.62px;top:509px;transform:scaleX(0.9360);">T</div>
<div class="t navy" style="left:461.26px;top:509px;transform:scaleX(0.9360);">T</div>
<div class="t navy" style="left:517.91px;top:509px;transform:scaleX(0.9360);">T</div>
<div class="t navy" style="left:573.40px;top:509px;transform:scaleX(0.9360);">C</div>
<div class="t navy" style="left:630.04px;top:509px;transform:scaleX(0.9360);">C</div>
<div class="t navy" style="left:687.89px;top:509px;transform:scaleX(0.9360);">A</div>
<div class="t navy" style="left:744.48px;top:509px;transform:scaleX(0.9360);">T</div>
<div class="t navy" style="left:801.17px;top:509px;transform:scaleX(0.9360);">A</div>
<div class="t navy" style="left:857.76px;top:509px;transform:scaleX(0.9360);">T</div>
<div class="t navy" style="left:914.46px;top:509px;transform:scaleX(0.9360);">A</div>
<div class="t eq" style="left:179.91px;top:525px;transform:scaleX(0.9360);">-</div>
<div class="t navy" style="left:234.69px;top:524px;transform:scaleX(0.9360);">T</div>
<div class="t navy" style="left:291.39px;top:524px;transform:scaleX(0.9360);">A</div>
<div class="t lt" style="left:348.03px;top:524px;transform:scaleX(0.9360);">A</div>
<div class="t navy" style="left:404.62px;top:524px;transform:scaleX(0.9360);">T</div>
<div class="t navy" style="left:461.26px;top:524px;transform:scaleX(0.9360);">T</div>
<div class="t navy" style="left:517.91px;top:524px;transform:scaleX(0.9360);">T</div>
<div class="t lt" style="left:574.55px;top:524px;transform:scaleX(0.9360);">T</div>
<div class="t navy" style="left:630.04px;top:524px;transform:scaleX(0.9360);">C</div>
<div class="t navy" style="left:687.89px;top:524px;transform:scaleX(0.9360);">A</div>
<div class="t lt" style="left:744.53px;top:524px;transform:scaleX(0.9360);">A</div>
<div class="t navy" style="left:801.17px;top:524px;transform:scaleX(0.9360);">A</div>
<div class="t navy" style="left:857.76px;top:524px;transform:scaleX(0.9360);">T</div>
<div class="t eq" style="left:914.24px;top:528px;transform:scale(0.9891,0.8);">=</div>
<div class="t eq" style="left:177.88px;top:543px;transform:scale(0.9891,0.8);">=</div>
<div class="t eq" style="left:234.52px;top:543px;transform:scale(0.9891,0.8);">=</div>
<div class="t eq" style="left:291.17px;top:543px;transform:scale(0.9891,0.8);">=</div>
<div class="t eq" style="left:347.81px;top:543px;transform:scale(0.9891,0.8);">=</div>
<div class="t eq" style="left:404.45px;top:543px;transform:scale(0.9891,0.8);">=</div>
<div class="t eq" style="left:461.10px;top:543px;transform:scale(0.9891,0.8);">=</div>
<div class="t eq" style="left:517.74px;top:543px;transform:scale(0.9891,0.8);">=</div>
<div class="t eq" style="left:574.38px;top:543px;transform:scale(0.9891,0.8);">=</div>
<div class="t eq" style="left:631.02px;top:543px;transform:scale(0.9891,0.8);">=</div>
<div class="t eq" style="left:687.67px;top:543px;transform:scale(0.9891,0.8);">=</div>
<div class="t eq" style="left:744.31px;top:543px;transform:scale(0.9891,0.8);">=</div>
<div class="t eq" style="left:800.95px;top:543px;transform:scale(0.9891,0.8);">=</div>
<div class="t eq" style="left:857.60px;top:543px;transform:scale(0.9891,0.8);">=</div>
<div class="t eq" style="left:914.24px;top:543px;transform:scale(0.9891,0.8);">=</div>
<div class="t navy" style="left:178.10px;top:554px;transform:scaleX(0.9360);">A</div>
<div class="t navy" style="left:234.69px;top:554px;transform:scaleX(0.9360);">T</div>
<div class="t navy" style="left:291.39px;top:554px;transform:scaleX(0.9360);">A</div>
<div class="t navy" style="left:347.98px;top:554px;transform:scaleX(0.9360);">T</div>
<div class="t eq" style="left:406.49px;top:555px;transform:scaleX(0.9360);">-</div>
<div class="t eq" style="left:463.13px;top:555px;transform:scaleX(0.9360);">-</div>
<div class="t eq" style="left:519.77px;top:555px;transform:scaleX(0.9360);">-</div>
<div class="t eq" style="left:576.41px;top:555px;transform:scaleX(0.9360);">-</div>
<div class="t eq" style="left:633.06px;top:555px;transform:scaleX(0.9360);">-</div>
<div class="t eq" style="left:689.70px;top:555px;transform:scaleX(0.9360);">-</div>
<div class="t eq" style="left:746.34px;top:555px;transform:scaleX(0.9360);">-</div>
<div class="t eq" style="left:802.99px;top:555px;transform:scaleX(0.9360);">-</div>
<div class="t eq" style="left:859.63px;top:555px;transform:scaleX(0.9360);">-</div>
<div class="t eq" style="left:916.27px;top:555px;transform:scaleX(0.9360);">-</div>
<div class="t eq" style="left:177.88px;top:573px;transform:scale(0.9891,0.8);">=</div>
<div class="t eq" style="left:234.52px;top:573px;transform:scale(0.9891,0.8);">=</div>
<div class="t eq" style="left:291.17px;top:573px;transform:scale(0.9891,0.8);">=</div>
<div class="t eq" style="left:347.81px;top:573px;transform:scale(0.9891,0.8);">=</div>
<div class="t eq" style="left:404.45px;top:573px;transform:scale(0.9891,0.8);">=</div>
<div class="t eq" style="left:461.10px;top:573px;transform:scale(0.9891,0.8);">=</div>
<div class="t eq" style="left:517.74px;top:573px;transform:scale(0.9891,0.8);">=</div>
<div class="t eq" style="left:574.38px;top:573px;transform:scale(0.9891,0.8);">=</div>
<div class="t eq" style="left:631.02px;top:573px;transform:scale(0.9891,0.8);">=</div>
<div class="t eq" style="left:687.67px;top:573px;transform:scale(0.9891,0.8);">=</div>
<div class="t eq" style="left:744.31px;top:573px;transform:scale(0.9891,0.8);">=</div>
<div class="t eq" style="left:800.95px;top:573px;transform:scale(0.9891,0.8);">=</div>
<div class="t eq" style="left:857.60px;top:573px;transform:scale(0.9891,0.8);">=</div>
<div class="t eq" style="left:914.24px;top:573px;transform:scale(0.9891,0.8);">=</div>
<div class="t eq" style="left:177.88px;top:588px;transform:scale(0.9891,0.8);">=</div>
<div class="t eq" style="left:234.52px;top:588px;transform:scale(0.9891,0.8);">=</div>
<div class="t eq" style="left:291.17px;top:588px;transform:scale(0.9891,0.8);">=</div>
<div class="t eq" style="left:347.81px;top:588px;transform:scale(0.9891,0.8);">=</div>
<div class="t eq" style="left:404.45px;top:588px;transform:scale(0.9891,0.8);">=</div>
<div class="t eq" style="left:461.10px;top:588px;transform:scale(0.9891,0.8);">=</div>
<div class="t eq" style="left:517.74px;top:588px;transform:scale(0.9891,0.8);">=</div>
<div class="t eq" style="left:574.38px;top:588px;transform:scale(0.9891,0.8);">=</div>
<div class="t eq" style="left:631.02px;top:588px;transform:scale(0.9891,0.8);">=</div>
<div class="t eq" style="left:687.67px;top:588px;transform:scale(0.9891,0.8);">=</div>
<div class="t eq" style="left:744.31px;top:588px;transform:scale(0.9891,0.8);">=</div>
<div class="t eq" style="left:800.95px;top:588px;transform:scale(0.9891,0.8);">=</div>
<div class="t eq" style="left:857.60px;top:588px;transform:scale(0.9891,0.8);">=</div>
<div class="t eq" style="left:914.24px;top:588px;transform:scale(0.9891,0.8);">=</div>
<div class="t eq" style="left:177.88px;top:603px;transform:scale(0.9891,0.8);">=</div>
<div class="t eq" style="left:234.52px;top:603px;transform:scale(0.9891,0.8);">=</div>
<div class="t eq" style="left:291.17px;top:603px;transform:scale(0.9891,0.8);">=</div>
<div class="t eq" style="left:347.81px;top:603px;transform:scale(0.9891,0.8);">=</div>
<div class="t eq" style="left:404.45px;top:603px;transform:scale(0.9891,0.8);">=</div>
<div class="t eq" style="left:461.10px;top:603px;transform:scale(0.9891,0.8);">=</div>
<div class="t eq" style="left:517.74px;top:603px;transform:scale(0.9891,0.8);">=</div>
<div class="t eq" style="left:574.38px;top:603px;transform:scale(0.9891,0.8);">=</div>
<div class="t eq" style="left:631.02px;top:603px;transform:scale(0.9891,0.8);">=</div>
<div class="t eq" style="left:687.67px;top:603px;transform:scale(0.9891,0.8);">=</div>
<div class="t eq" style="left:744.31px;top:603px;transform:scale(0.9891,0.8);">=</div>
<div class="t eq" style="left:800.95px;top:603px;transform:scale(0.9891,0.8);">=</div>
<div class="t eq" style="left:857.60px;top:603px;transform:scale(0.9891,0.8);">=</div>
<div class="t eq" style="left:914.24px;top:603px;transform:scale(0.9891,0.8);">=</div>
</div>
</body></html>
